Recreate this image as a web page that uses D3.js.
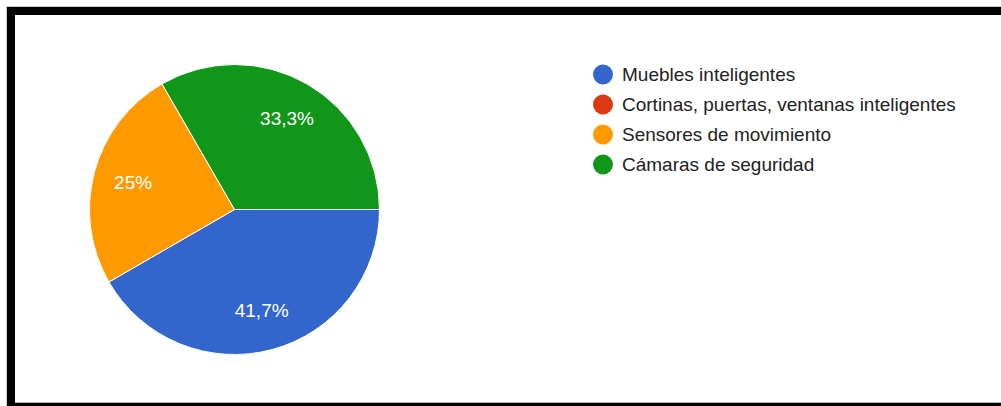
<!DOCTYPE html>
<html>
<head>
<meta charset="utf-8">
<script src="https://cdn.jsdelivr.net/npm/d3@7"></script>
<style>
  body { margin: 0; background: #fff; }
  svg { display: block; }
</style>
</head>
<body>
<script>
var categories = ['Muebles inteligentes', 'Cortinas, puertas, ventanas inteligentes', 'Sensores de movimiento', 'Cámaras de seguridad'];
var counts = [5, 0, 3, 4];
var pctLabels = ['41,7%', '', '25%', '33,3%'];
var colors = ['#3366cc', '#dc3912', '#ff9900', '#109618'];

var W = 1001, H = 406;
var svg = d3.select("body").append("svg").attr("width", W).attr("height", H);

// frame (gray hairline + thick black border, cut off on the right)
svg.append("line").attr("x1", 6).attr("x2", W).attr("y1", 6.5).attr("y2", 6.5).attr("stroke", "#c8c8c8");
svg.append("line").attr("x1", 6.5).attr("x2", 6.5).attr("y1", 6).attr("y2", H).attr("stroke", "#c8c8c8");
svg.append("rect").attr("x", 7).attr("y", 7).attr("width", W).attr("height", 8).attr("fill", "#000");
svg.append("rect").attr("x", 7).attr("y", 7).attr("width", 8).attr("height", H).attr("fill", "#000");
svg.append("line").attr("x1", 15).attr("x2", W).attr("y1", 402.5).attr("y2", 402.5).attr("stroke", "#bbb");
svg.append("rect").attr("x", 7).attr("y", 403).attr("width", W).attr("height", 4).attr("fill", "#000");

var cx = 234.5, cy = 209.5, r = 145;
var pie = d3.pie().sort(null).value(function(d){ return d; })
  .startAngle(Math.PI / 2).endAngle(Math.PI / 2 + 2 * Math.PI);
var arcs = pie(counts);
var arc = d3.arc().innerRadius(0).outerRadius(r);
var labelArc = d3.arc().innerRadius(105).outerRadius(105);

var g = svg.append("g").attr("transform", "translate(" + cx + "," + cy + ")");
g.selectAll("path")
  .data(arcs.filter(function(d){ return d.value > 0; }))
  .enter().append("path")
    .attr("d", arc)
    .attr("fill", function(d){ return colors[d.index]; })
    .attr("stroke", "#fff")
    .attr("stroke-width", 1);

g.selectAll("text")
  .data(arcs.filter(function(d){ return d.value > 0; }))
  .enter().append("text")
    .attr("transform", function(d){ return "translate(" + labelArc.centroid(d) + ")"; })
    .attr("text-anchor", "middle")
    .attr("dominant-baseline", "central")
    .attr("font-family", "Arial, 'Liberation Sans', sans-serif")
    .attr("font-size", 19)
    .attr("fill", "#fff")
    .text(function(d){ return pctLabels[d.index]; });

// legend
var legend = svg.append("g").attr("transform", "translate(603,74.5)");
var rows = legend.selectAll("g")
  .data(categories)
  .enter().append("g")
    .attr("transform", function(d, i){ return "translate(0," + (i * 30) + ")"; });
rows.append("circle")
  .attr("r", 10)
  .attr("fill", function(d, i){ return colors[i]; });
rows.append("text")
  .attr("x", 19)
  .attr("dominant-baseline", "central")
  .attr("font-family", "Arial, 'Liberation Sans', sans-serif")
  .attr("font-size", 19)
  .attr("fill", "#222")
  .text(function(d){ return d; });
</script>
</body>
</html>
